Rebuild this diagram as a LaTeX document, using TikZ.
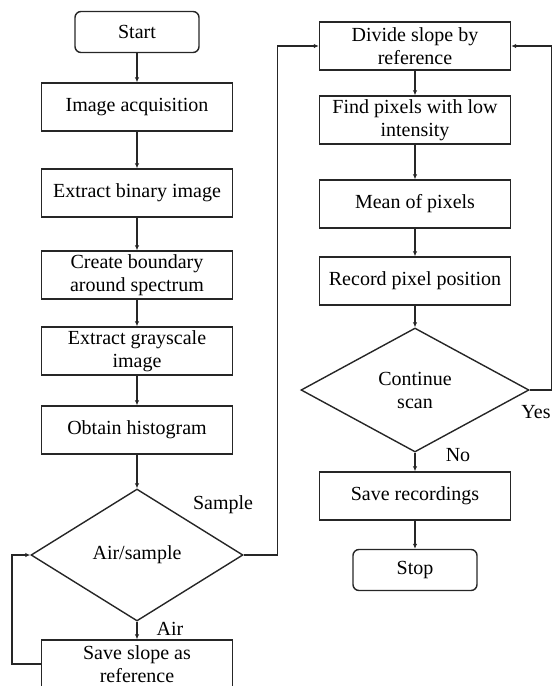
\documentclass[tikz,border=0pt]{standalone}
\usepackage{fontspec}
\setmainfont{Liberation Serif}
\usetikzlibrary{shapes.geometric,arrows.meta}
\begin{document}
\begin{tikzpicture}[x=1pt,y=-1pt,
	txt/.style={font=\fontsize{20}{23}\selectfont},
	box/.style={txt,rectangle,draw=black!85,line width=1.4pt,minimum width=191pt,minimum height=48pt,inner sep=1pt,align=center},
	term/.style={txt,rectangle,rounded corners=6pt,draw=black!85,line width=1.4pt,minimum width=124pt,minimum height=41pt},
	dec/.style={txt,diamond,draw=black!85,line width=1.4pt,inner sep=0pt,align=center},
	arr/.style={-{Latex[length=5pt,width=4.5pt]},line width=1.4pt,color=black!85}]
	\useasboundingbox (0,0) rectangle (552,686);

	% left column
	\node (start) [term] at (137,32) {Start};
	\node (acq) [box] at (137,107) {Image acquisition};
	\node (bin) [box] at (137,193) {Extract binary image};
	\node (bound) [box] at (137,275) {Create boundary\\around spectrum};
	\node (gray) [box] at (137,351) {Extract grayscale\\image};
	\node (hist) [box] at (137,430) {Obtain histogram};
	\node (air) [dec,minimum width=212pt,minimum height=132pt] at (137,555) {Air/sample};
	\node (slope) [box] at (137,664) {Save slope as\\reference};

	% right column
	\node (div) [box] at (415,46) {Divide slope by\\reference};
	\node (find) [box] at (415,120) {Find pixels with low\\intensity};
	\node (mean) [box] at (415,204) {Mean of pixels};
	\node (rec) [box] at (415,281) {Record pixel position};
	\node (cont) [dec,minimum width=228pt,minimum height=124pt] at (415,390) {Continue\\scan};
	\node (save) [box] at (415,496) {Save recordings};
	\node (stop) [term] at (415,570) {Stop};

	% branch labels
	\node (lsam) [txt] at (223,505) {Sample};
	\node (lair) [txt] at (170,629) {Air};
	\node (lyes) [txt] at (536,412) {Yes};
	\node (lno) [txt] at (458,455) {No};

	\draw [arr] (start) -- (acq);
	\draw [arr] (acq) -- (bin);
	\draw [arr] (bin) -- (bound);
	\draw [arr] (bound) -- (gray);
	\draw [arr] (gray) -- (hist);
	\draw [arr] (hist) -- (air);
	\draw [arr] (air) -- (slope);
	\draw [arr] (slope.west) -- ++(-29,0) |- (air.west);
	\draw [arr] (air.east) -- ++(34,0) |- (div.west);
	%\draw [arr] (air.east) -| (div.north);
	\draw [arr] (div) -- (find);
	\draw [arr] (find) -- (mean);
	\draw [arr] (mean) -- (rec);
	\draw [arr] (rec) -- (cont);
	\draw [arr] (cont.east) -- ++(22,0) |- (div.east);
	\draw [arr] (cont) -- (save);
	\draw [arr] (save) -- (stop);
\end{tikzpicture}
\end{document}
